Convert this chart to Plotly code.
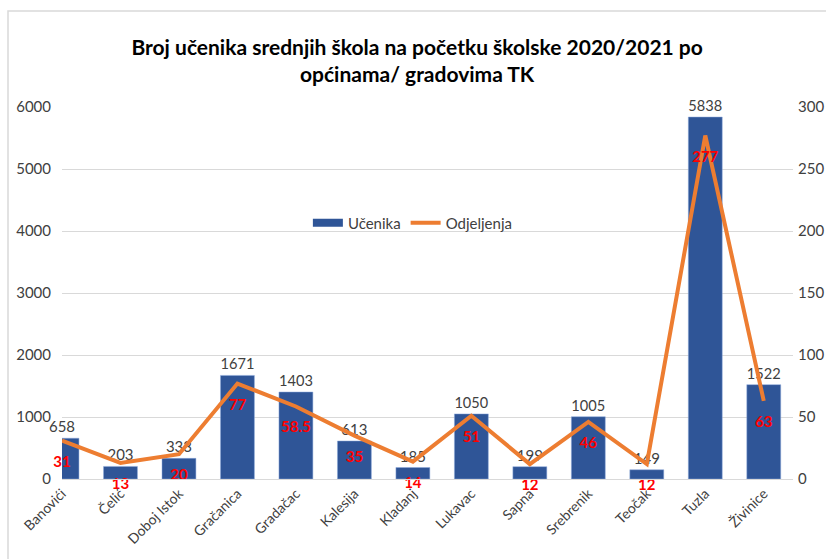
import plotly.graph_objects as go

categories = ["Banovići", "Čelić", "Doboj Istok", "Gračanica", "Gradačac", "Kalesija",
              "Kladanj", "Lukavac", "Sapna", "Srebrenik", "Teočak", "Tuzla", "Živinice"]
ucenika = [658, 203, 333, 1671, 1403, 613, 185, 1050, 199, 1005, 149, 5838, 1522]
odjeljenja = [31, 13, 20, 77, 58.5, 35, 14, 51, 12, 46, 12, 277, 63]
y_ticks = [0, 1000, 2000, 3000, 4000, 5000, 6000]
y2_ticks = [0, 50, 100, 150, 200, 250, 300]

FONT = "Lato"
BLUE = "#2F5597"
ORANGE = "#ED7D31"
fig = go.Figure()
fig.add_trace(go.Bar(
    x=categories, y=ucenika, name="Učenika", showlegend=False,
    marker=dict(color=BLUE, line=dict(color="#8FAADC", width=0.5)),
    width=0.58,
    text=[str(v) for v in ucenika], textposition="outside",
    textfont=dict(family=FONT, size=15, color="#404040"),
    cliponaxis=False,
))
fig.add_trace(go.Scatter(
    x=categories, y=odjeljenja, name="Odjeljenja", yaxis="y2", showlegend=False,
    mode="lines+markers+text", line=dict(color=ORANGE, width=4),
    marker=dict(size=22, color="rgba(0,0,0,0)", line=dict(width=0)),
    text=[("%g" % v) for v in odjeljenja], textposition="bottom center",
    textfont=dict(family=FONT, size=15, color="#FF0000", weight="bold"),
    cliponaxis=False,
))
# legend entries
fig.add_trace(go.Scatter(x=[None], y=[None], mode="lines", name="Učenika",
                         line=dict(color=BLUE, width=8)))
fig.add_trace(go.Scatter(x=[None], y=[None], mode="lines", name="Odjeljenja",
                         line=dict(color=ORANGE, width=4)))

fig.update_layout(
    width=826, height=559,
    margin=dict(l=62, r=33, t=107, b=80),
    paper_bgcolor="white", plot_bgcolor="white",
    font=dict(family=FONT, size=15, color="#595959"),
    title=dict(
        text="<b>Broj učenika srednjih škola na početku školske 2020/2021 po<br>općinama/ gradovima TK</b>",
        x=0.505, xanchor="center", y=1 - 55 / 559, yanchor="middle",
        font=dict(family=FONT, size=21, color="#000000"),
    ),
    showlegend=True,
    legend=dict(orientation="h", x=0.48, xanchor="center", y=0.688, yanchor="middle",
                font=dict(family=FONT, size=15, color="#404040"), bgcolor="rgba(0,0,0,0)"),
    xaxis=dict(type="category", range=[0, 12.5], tickangle=-45, showgrid=False,
               showline=True, linecolor="#D9D9D9", linewidth=1, ticks="", automargin=False,
               tickfont=dict(family=FONT, size=14, color="#404040")),
    yaxis=dict(range=[0, 6000], tickvals=y_ticks, showgrid=True, gridcolor="#D9D9D9",
               zeroline=False, showline=False, ticks="", ticklabelstandoff=10, automargin=False,
               tickfont=dict(family=FONT, size=15, color="#404040")),
    yaxis2=dict(range=[0, 300], tickvals=y2_ticks, overlaying="y", side="right",
                showgrid=False, zeroline=False, showline=False, ticks="", ticklabelstandoff=4,
                automargin=False,
                tickfont=dict(family=FONT, size=15, color="#404040")),
    shapes=[dict(type="rect", xref="paper", yref="paper",
                 x0=(8 - 62) / 731, x1=1.2, y0=-0.5, y1=(479 - 11) / 372,
                 line=dict(color="#D9D9D9", width=1.5), fillcolor="rgba(0,0,0,0)", layer="below")],
)
fig.write_html("out.html")
